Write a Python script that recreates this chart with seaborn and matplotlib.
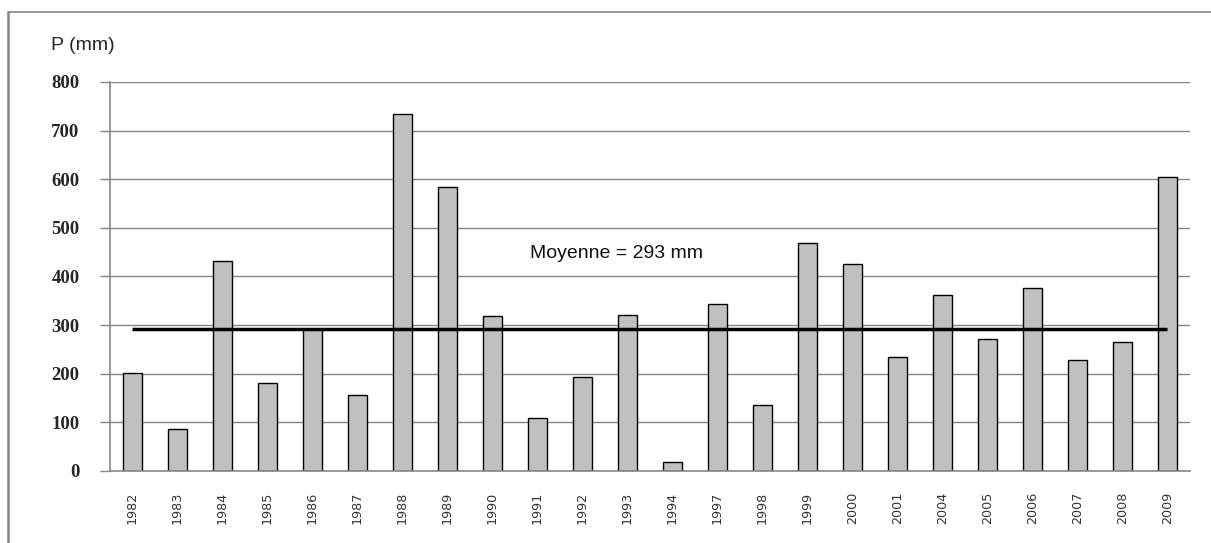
#!/usr/bin/env python3
import matplotlib

matplotlib.use("Agg")

import matplotlib.pyplot as plt
import pandas as pd
import seaborn as sns
from matplotlib.lines import Line2D

years = ["1982", "1983", "1984", "1985", "1986", "1987", "1988", "1989", "1990", "1991",
         "1992", "1993", "1994", "1997", "1998", "1999", "2000", "2001", "2004", "2005",
         "2006", "2007", "2008", "2009"]
precip = [202, 87, 431, 181, 293, 156, 735, 585, 318, 108,
          194, 321, 18, 344, 136, 469, 426, 234, 362, 271,
          376, 229, 266, 605]
mean_value = 293
y_ticks = [0, 100, 200, 300, 400, 500, 600, 700, 800]

sns.set_theme(style="white")
plt.rcParams["font.family"] = ["DejaVu Sans"]

df = pd.DataFrame({"year": years, "P": precip})

fig = plt.figure(figsize=(12.11, 5.43), dpi=100)
ax = fig.add_axes([0.0908, 0.1326, 0.8917, 0.7164])

for t in y_ticks[1:]:
    ax.axhline(t, color="#868686", lw=1.0, zorder=0)

sns.barplot(data=df, x="year", y="P", order=years, color="#C0C0C0", width=0.42,
            edgecolor="black", linewidth=1.0, saturation=1, ax=ax, zorder=2)

ax.hlines(mean_value, 0, len(years) - 1, color="black", lw=2.5, zorder=3)
ax.text(10.75, 448, "Moyenne = 293 mm", ha="center", va="center", fontsize=14,
        family="Liberation Sans", color="#111111")

ax.set_xlim(-0.5, len(years) - 0.5)
ax.set_ylim(0, 800)
ax.set_yticks(y_ticks)
ax.set_yticklabels([str(t) for t in y_ticks], fontsize=13.5, fontweight="bold",
                   family="Liberation Serif")
ax.tick_params(axis="y", left=True, length=7, color="#868686", width=1, pad=15)
ax.tick_params(axis="x", bottom=False, labelsize=9.2, rotation=90, pad=9,
               labelcolor="#333333")
ax.set_xlabel("")
ax.set_ylabel("")

for side in ["top", "right"]:
    ax.spines[side].set_visible(False)
for side in ["left", "bottom"]:
    ax.spines[side].set_color("#868686")
    ax.spines[side].set_linewidth(1.2)

fig.text(0.042, 0.917, "P (mm)", fontsize=14, family="Liberation Sans", va="center")

# frame around the chart (left and top edges only)
fig.add_artist(Line2D([0.0066, 0.0066], [0.0, 0.978], transform=fig.transFigure,
                      color="#868686", lw=1.8))
fig.add_artist(Line2D([0.0066, 1.0], [0.978, 0.978], transform=fig.transFigure,
                      color="#868686", lw=1.2))

fig.savefig("out.png", dpi=100)
